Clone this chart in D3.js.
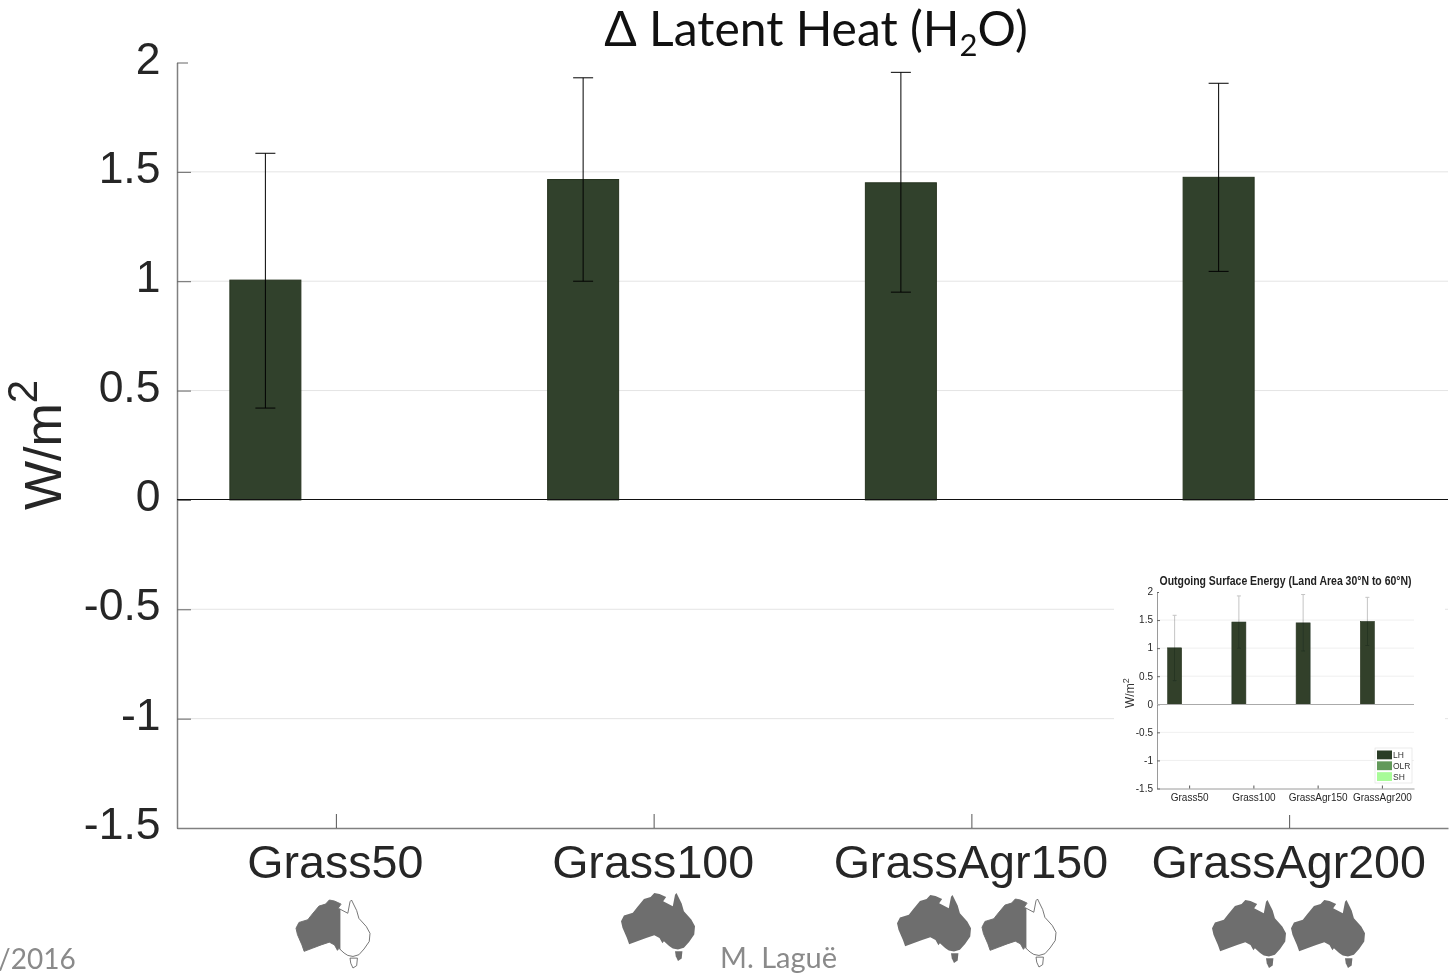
<!DOCTYPE html>
<html>
<head>
<meta charset="utf-8">
<script src="https://cdn.jsdelivr.net/npm/d3@7"></script>
<style>
  html, body { margin: 0; background: white; overflow: hidden; }
  text { font-family: "Liberation Sans", sans-serif; }
  .slide { font-family: Lato, sans-serif; }
</style>
</head>
<body>
<svg id="chart"></svg>
<script>
const categories = ["Grass50", "Grass100", "GrassAgr150", "GrassAgr200"];
const latentHeat = [1.005, 1.465, 1.45, 1.475];
const errorUpper = [1.585, 1.93, 1.955, 1.905];
const errorLower = [0.42, 1.0, 0.95, 1.045];
const yTicks = [-1.5, -1, -0.5, 0, 0.5, 1, 1.5, 2];
const gridTicks = [-1, -0.5, 0.5, 1, 1.5];
const legendLabels = ["LH", "OLR", "SH"];

// how much of each map is shaded (1 = whole continent)
const mapShading = [[0.6], [1], [1, 0.6], [1, 1]];

// map outline, in unit coordinates
const mainland = [
  [0.21, 0.22], [0.31, 0.09], [0.4, 0.06], [0.45, 0], [0.52, 0.015], [0.61, 0.06],
  [0.57, 0.12], [0.7, 0.195], [0.73, 0.025], [0.75, 0], [0.82, 0.155], [0.85, 0.27],
  [0.95, 0.39], [1, 0.49], [0.99, 0.61], [0.92, 0.72], [0.85, 0.805], [0.77, 0.83],
  [0.7, 0.815], [0.65, 0.78], [0.58, 0.71], [0.56, 0.74], [0.52, 0.66], [0.45, 0.62],
  [0.34, 0.66], [0.22, 0.71], [0.11, 0.755], [0.08, 0.66], [0.02, 0.51], [0, 0.415],
  [0.04, 0.33], [0.16, 0.29],
];
const tasmania = [[0.73, 0.855], [0.83, 0.855], [0.82, 0.965], [0.77, 1], [0.74, 0.93]];

const width = 1451;
const height = 973;
const svg = d3.select("#chart").attr("width", width).attr("height", height);

const defs = svg.append("defs");
defs.append("filter").attr("id", "soft").append("feGaussianBlur").attr("stdDeviation", 0.55);

// the slide title and footer
const title = svg.append("text")
  .attr("class", "slide")
  .attr("x", 816)
  .attr("y", 46)
  .attr("text-anchor", "middle")
  .attr("font-size", 48)
  .attr("fill", "#111");
title.append("tspan").text("Δ Latent Heat (H");
title.append("tspan").attr("font-size", 31).attr("dy", 10).text("2");
title.append("tspan").attr("dy", -10).text("O)");

svg.append("text").attr("class", "slide").attr("x", -2).attr("y", 969)
  .attr("font-size", 28).attr("fill", "#8a8a8a").text("/2016");
svg.append("text").attr("class", "slide").attr("x", 720).attr("y", 968)
  .attr("font-size", 29).attr("fill", "#8a8a8a").text("M. Laguë");

// draws axes, bars and error bars inside a box, used for the chart and its inset
const barPanel = (g, box, style) => {
  const x = d3.scaleLinear().domain([0.5, 4.5]).range([box.left, box.right]);
  const y = d3.scaleLinear().domain([-1.5, 2]).range([box.bottom, box.top]);
  const xc = (i) => x(i + 1) + style.barOffset;

  g.selectAll(".grid")
    .data(gridTicks)
    .join("line")
    .attr("class", "grid")
    .attr("x1", box.left)
    .attr("x2", box.right)
    .attr("y1", (d) => y(d))
    .attr("y2", (d) => y(d))
    .attr("stroke", "#e4e4e4")
    .attr("stroke-width", style.gridWidth);

  const yAxis = g.append("g")
    .attr("transform", `translate(${box.left},0)`)
    .call(
      d3.axisLeft(y)
        .tickValues(yTicks)
        .tickFormat((d) => String(d))
        .tickSizeInner(-style.tickY)
        .tickSizeOuter(0)
        .tickPadding(style.padY)
    );
  yAxis.select(".domain").attr("stroke", "#808080").attr("stroke-width", style.axisWidth);
  yAxis.selectAll(".tick line")
    .attr("stroke", "#666")
    .attr("x2", (d) => (d === 2 ? style.tickTop : style.tickY));
  yAxis.selectAll("text")
    .attr("font-family", "Liberation Sans")
    .attr("font-size", style.fontY)
    .attr("dy", style.dyY)
    .attr("fill", "#262626");

  const xAxis = g.append("g")
    .attr("transform", `translate(0,${box.bottom})`)
    .call(
      d3.axisBottom(x)
        .tickValues([1, 2, 3, 4])
        .tickFormat((d) => categories[d - 1])
        .tickSizeInner(-style.tickX)
        .tickSizeOuter(0)
        .tickPadding(style.padX)
    );
  xAxis.select(".domain").attr("stroke", "#808080").attr("stroke-width", style.axisWidth);
  xAxis.selectAll(".tick line").attr("stroke", "#555");
  xAxis.selectAll("text")
    .attr("font-family", "Liberation Sans")
    .attr("font-size", style.fontX)
    .attr("dx", style.dxX)
    .attr("fill", "#262626");

  g.selectAll(".bar")
    .data(latentHeat)
    .join("rect")
    .attr("class", "bar")
    .attr("x", (d, i) => xc(i) - style.barWidth / 2)
    .attr("y", (d) => y(d))
    .attr("width", style.barWidth)
    .attr("height", (d) => y(0) - y(d))
    .attr("fill", "#31412c")
    .attr("stroke", "#26331f")
    .attr("stroke-width", style.barStroke);

  g.append("line")
    .attr("x1", box.left)
    .attr("x2", box.right)
    .attr("y1", y(0))
    .attr("y2", y(0))
    .attr("stroke", style.zeroColor)
    .attr("shape-rendering", "crispEdges");

  const errors = g.selectAll(".err").data(categories).join("g").attr("class", "err")
    .attr("stroke", style.errColor)
    .style("mix-blend-mode", "multiply");
  errors.append("line")
    .attr("x1", (d, i) => xc(i))
    .attr("x2", (d, i) => xc(i))
    .attr("y1", (d, i) => y(errorLower[i]))
    .attr("y2", (d, i) => y(errorUpper[i]));
  [errorLower, errorUpper].forEach((vals) => {
    errors.append("line")
      .attr("x1", (d, i) => xc(i) - style.cap)
      .attr("x2", (d, i) => xc(i) + style.cap)
      .attr("y1", (d, i) => y(vals[i]))
      .attr("y2", (d, i) => y(vals[i]));
  });
};

// main chart
const main = svg.append("g");
barPanel(main, { left: 177, right: 1448, top: 62.5, bottom: 828 }, {
  barOffset: -70.5, barWidth: 71, barStroke: 1, cap: 10,
  tickX: 14, tickY: 14, tickTop: 11, padX: 17, padY: 16.5, fontX: 46.6, fontY: 44.5, dyY: "0.24em", dxX: -1,
  gridWidth: 1, axisWidth: 1.5, zeroColor: "#111", errColor: "#000",
});

const yLabel = svg.append("text")
  .attr("transform", "translate(61,510) rotate(-90)")
  .attr("font-size", 52)
  .attr("fill", "#262626");
yLabel.append("tspan").text("W/m");
yLabel.append("tspan").attr("font-size", 42).attr("dy", -24).text("2");

// inset is a pasted in thumbnail of the full figure
svg.append("rect")
  .attr("x", 1114).attr("y", 565).attr("width", 331).attr("height", 250)
  .attr("fill", "white");

const inset = svg.append("g").attr("filter", "url(#soft)");
barPanel(inset, { left: 1157, right: 1414, top: 592, bottom: 788.5 }, {
  barOffset: -14.5, barWidth: 14, barStroke: 0.6, cap: 2,
  tickX: 3, tickY: 3, tickTop: 2, padX: 5, padY: 4, fontX: 10, fontY: 10, dyY: "0.28em", dxX: 0,
  gridWidth: 0.6, axisWidth: 0.8, zeroColor: "#aaa", errColor: "#c4c4c4",
});

inset.append("text")
  .attr("x", 1285.5)
  .attr("y", 585)
  .attr("text-anchor", "middle")
  .attr("font-size", 12)
  .attr("font-weight", "bold")
  .attr("textLength", 252)
  .attr("lengthAdjust", "spacingAndGlyphs")
  .attr("fill", "#222")
  .text("Outgoing Surface Energy (Land Area 30°N to 60°N)");

const insetLabel = inset.append("text")
  .attr("transform", "translate(1134,708) rotate(-90)")
  .attr("font-size", 12)
  .attr("fill", "#333");
insetLabel.append("tspan").text("W/m");
insetLabel.append("tspan").attr("font-size", 9).attr("dy", -5).text("2");

// inset legend
const legendY = d3.scaleBand().domain(legendLabels).range([749.5, 782]);
const legendColor = d3.scaleOrdinal().domain(legendLabels).range(["#2b3d26", "#62995a", "#a8fb98"]);
inset.append("rect").attr("x", 1375).attr("y", 748).attr("width", 37).attr("height", 35)
  .attr("fill", "white").attr("stroke", "#ddd").attr("stroke-width", 0.6);
inset.selectAll(".swatch")
  .data(legendLabels)
  .join("rect")
  .attr("class", "swatch")
  .attr("x", 1377)
  .attr("y", (d) => legendY(d) + 1)
  .attr("width", 15)
  .attr("height", legendY.bandwidth() - 2)
  .attr("fill", (d) => legendColor(d));
inset.selectAll(".legendText")
  .data(legendLabels)
  .join("text")
  .attr("class", "legendText")
  .attr("x", 1393)
  .attr("y", (d) => legendY(d) + legendY.bandwidth() / 2 + 3)
  .attr("font-size", 8.5)
  .attr("fill", "#333")
  .text((d) => d);

// little maps under the category labels
const mapBoxes = [
  [{ x: 296, y: 900 }],
  [{ x: 621, y: 893 }],
  [{ x: 897, y: 895 }, { x: 982, y: 899 }],
  [{ x: 1212, y: 900 }, { x: 1291, y: 900 }],
];
const mapX = d3.scaleLinear().domain([0, 1]).range([0, 74]);
const mapY = d3.scaleLinear().domain([0, 1]).range([0, 68]);
const outline = d3.line().x((d) => mapX(d[0])).y((d) => mapY(d[1])).curve(d3.curveLinearClosed);

mapShading.forEach((shares, c) => {
  shares.forEach((share, m) => {
    const id = `clip-${c}-${m}`;
    defs.append("clipPath").attr("id", id).append("rect")
      .attr("width", mapX(share)).attr("height", mapY(1.1));
    const map = svg.append("g")
      .attr("transform", `translate(${mapBoxes[c][m].x},${mapBoxes[c][m].y})`);
    [mainland, tasmania].forEach((shape) => {
      if (share < 1) {
        map.append("path").attr("d", outline(shape))
          .attr("fill", "white").attr("stroke", "#555").attr("stroke-width", 0.8);
      }
      map.append("path").attr("d", outline(shape))
        .attr("clip-path", `url(#${id})`)
        .attr("fill", "#6e6e6e");
    });
  });
});
</script>
</body>
</html>
